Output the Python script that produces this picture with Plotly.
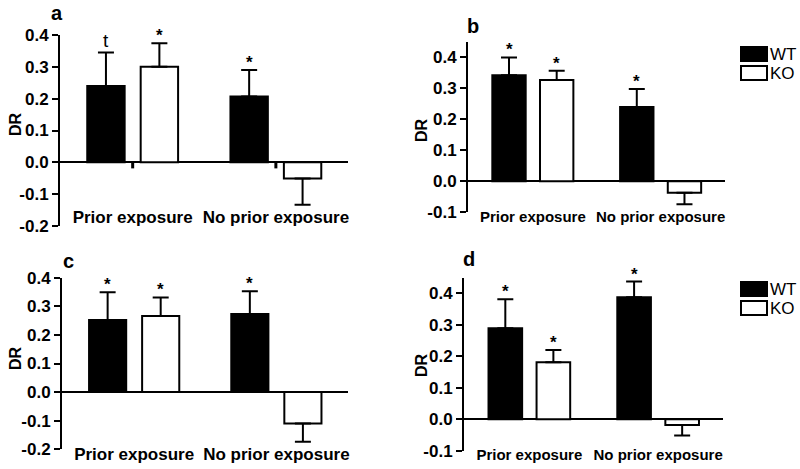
import plotly.graph_objects as go

W, H = 800, 469

# ---------------- data ----------------
categories = ["Prior exposure", "No prior exposure"]
genotypes = ["WT", "KO"]

wt_a = [0.240, 0.207]
wt_a_err = [0.105, 0.083]
ko_a = [0.300, -0.051]
ko_a_err = [0.074, 0.082]
wt_a_sig = ["t", "*"]
ko_a_sig = ["*", ""]

wt_b = [0.343, 0.240]
wt_b_err = [0.057, 0.058]
ko_b = [0.327, -0.037]
ko_b_err = [0.030, 0.037]
wt_b_sig = ["*", "*"]
ko_b_sig = ["*", ""]

wt_c = [0.252, 0.273]
wt_c_err = [0.097, 0.080]
ko_c = [0.266, -0.110]
ko_c_err = [0.065, 0.064]
wt_c_sig = ["*", "*"]
ko_c_sig = ["*", ""]

wt_d = [0.289, 0.387]
wt_d_err = [0.092, 0.050]
ko_d = [0.181, -0.018]
ko_d_err = [0.039, 0.034]
wt_d_sig = ["*", "*"]
ko_d_sig = ["*", ""]

y_ticks_ac = [-0.2, -0.1, 0.0, 0.1, 0.2, 0.3, 0.4]
y_text_ac = ["-0.2", "-0.1", "0.0", "0.1", "0.2", "0.3", "0.4"]
y_ticks_bd = [-0.1, 0.0, 0.1, 0.2, 0.3, 0.4]
y_text_bd = ["-0.1", "0.0", "0.1", "0.2", "0.3", "0.4"]

panel_letters = ["a", "b", "c", "d"]
y_title = "DR"

# ---------------- layout helpers ----------------
FONT = "Liberation Sans, Arial, sans-serif"
GROUP_STEP = 2.68
X_RANGE = [-0.86, 4.53]


def px_x(p):
    return p / W


def px_y(p):
    return 1 - p / H


panels = [
    dict(wt=wt_a, wte=wt_a_err, ko=ko_a, koe=ko_a_err, wts=wt_a_sig, kos=ko_a_sig,
         xpx=(60, 348), ypx=(35, 226), yr=[-0.2, 0.4], tv=y_ticks_ac, tt=y_text_ac,
         lpos=(57, 13), labtop=205, labsize=17, tpos=(15, 124), stubs=True),
    dict(wt=wt_b, wte=wt_b_err, ko=ko_b, koe=ko_b_err, wts=wt_b_sig, kos=ko_b_sig,
         xpx=(468, 725), ypx=(42, 212.3), yr=[-0.1, 0.45], tv=y_ticks_bd, tt=y_text_bd,
         lpos=(473, 26), labtop=206, labsize=15, tpos=(421, 130), stubs=False),
    dict(wt=wt_c, wte=wt_c_err, ko=ko_c, koe=ko_c_err, wts=wt_c_sig, kos=ko_c_sig,
         xpx=(62, 348), ypx=(277.7, 449.3), yr=[-0.2, 0.4], tv=y_ticks_ac, tt=y_text_ac,
         lpos=(68, 261), labtop=442, labsize=17, tpos=(15, 358), stubs=False),
    dict(wt=wt_d, wte=wt_d_err, ko=ko_d, koe=ko_d_err, wts=wt_d_sig, kos=ko_d_sig,
         xpx=(464, 723), ypx=(277.5, 450.7), yr=[-0.1, 0.45], tv=y_ticks_bd, tt=y_text_bd,
         lpos=(469, 259), labtop=444, labsize=15, tpos=(421, 365), stubs=False),
]

fig = go.Figure()
annotations = []
shapes = []
layout = {}

for i, p in enumerate(panels):
    n = "" if i == 0 else str(i + 1)
    xa, ya = "x" + n, "y" + n
    centers = [g * GROUP_STEP + 0.5 for g in range(len(categories))]
    for gi, (vals, errs, sigs, color, name) in enumerate([
        (p["wt"], p["wte"], p["wts"], "black", genotypes[0]),
        (p["ko"], p["koe"], p["kos"], "white", genotypes[1]),
    ]):
        xs = [g * GROUP_STEP + gi for g in range(len(categories))]
        up = [e if v >= 0 else 0 for v, e in zip(vals, errs)]
        down = [e if v < 0 else 0 for v, e in zip(vals, errs)]
        fig.add_trace(go.Bar(
            x=xs, y=vals, width=0.7, name=name, showlegend=False,
            marker=dict(color=color, line=dict(color="black", width=2)),
            error_y=dict(type="data", symmetric=False, array=up, arrayminus=down,
                         color="black", thickness=2, width=8),
            xaxis=xa, yaxis=ya, hoverinfo="skip",
        ))
        for x, v, e, s in zip(xs, vals, errs, sigs):
            if s:
                is_t = s == "t"
                annotations.append(dict(
                    x=x, y=v + e, xref=xa, yref=ya, text=s, showarrow=False,
                    yanchor="bottom", yshift=(0 if is_t else -4),
                    font=dict(family=FONT, size=(19 if is_t else 17), color="black",
                              weight=("normal" if is_t else "bold")),
                ))
    xd = [px_x(p["xpx"][0]), px_x(p["xpx"][1])]
    yd = [px_y(p["ypx"][1]), px_y(p["ypx"][0])]
    layout["xaxis" + n] = dict(
        domain=xd, range=X_RANGE, anchor="free", position=px_y(p["labtop"]),
        tickvals=centers, ticktext=categories, tickangle=0, automargin=False,
        showline=False, showgrid=False, zeroline=False, ticks="",
        tickfont=dict(family=FONT, size=p["labsize"], color="black", weight="bold"),
        fixedrange=True,
    )
    layout["yaxis" + n] = dict(
        domain=yd, range=p["yr"], anchor=xa, tickvals=p["tv"], ticktext=p["tt"],
        automargin=False,
        showline=True, linecolor="black", linewidth=2, ticks="outside", ticklen=6,
        tickwidth=2, tickcolor="black", showgrid=False,
        zeroline=True, zerolinecolor="black", zerolinewidth=2,
        tickfont=dict(family=FONT, size=17, color="black", weight="bold"),
        fixedrange=True,
    )
    # y-axis title
    annotations.append(dict(
        x=px_x(p["tpos"][0]), y=px_y(p["tpos"][1]), xref="paper", yref="paper",
        text=y_title, textangle=-90, showarrow=False, xanchor="center", yanchor="middle",
        font=dict(family=FONT, size=16, color="black", weight="bold"),
    ))
    annotations.append(dict(
        x=px_x(p["lpos"][0]), y=px_y(p["lpos"][1]), xref="paper", yref="paper",
        text=panel_letters[i], showarrow=False, xanchor="center", yanchor="middle",
        font=dict(family=FONT, size=20, color="black", weight="bold"),
    ))
    if p["stubs"]:
        for c in centers:
            shapes.append(dict(type="line", xref=xa, yref=ya, x0=c, x1=c, y0=0,
                               y1=-0.019, line=dict(color="black", width=3)))

# manual legends for panels b and d (wide swatches like the original)
for top in (47, 282):
    for k, (name, fill) in enumerate(zip(genotypes, ["black", "white"])):
        y0 = top + k * 19
        shapes.append(dict(type="rect", xref="paper", yref="paper",
                           x0=px_x(741), x1=px_x(767), y0=px_y(y0 + 14), y1=px_y(y0),
                           fillcolor=fill, line=dict(color="black", width=2)))
        annotations.append(dict(x=px_x(768), y=px_y(y0 + 7), xref="paper", yref="paper",
                                text=name, showarrow=False, xanchor="left", yanchor="middle",
                                font=dict(family=FONT, size=17, color="black")))

fig.update_layout(
    width=W, height=H, margin=dict(l=0, r=0, t=0, b=0),
    paper_bgcolor="white", plot_bgcolor="white",
    barmode="overlay", showlegend=False,
    annotations=annotations, shapes=shapes, **layout,
)

fig.write_html("out.html", config={"displayModeBar": False},
               post_script="document.body.style.margin='0';")
